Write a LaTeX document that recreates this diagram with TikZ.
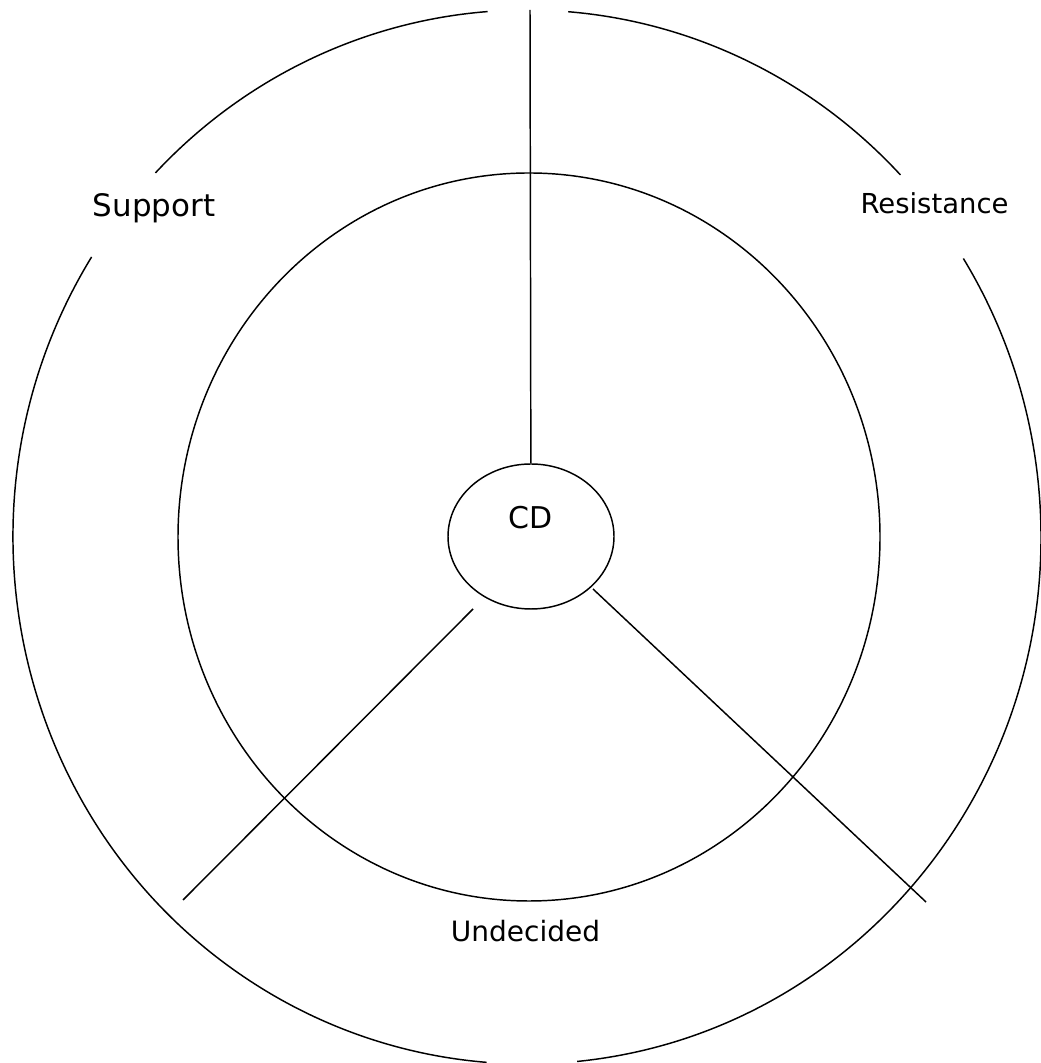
\documentclass[tikz,border=0pt]{standalone}
\usepackage{fontspec}
\setmainfont{DejaVu Sans}
\usetikzlibrary{shapes.geometric}
\begin{document}
\begin{tikzpicture}[x=0.75pt,y=0.75pt,line width=1.1pt,
  lbl/.style={anchor=base,inner sep=0pt}]
\useasboundingbox (0,0) rectangle (1040,1063);
% outer ring, open at the top, the bottom and the two labels
\foreach \a/\b in {43.4/85.4,94.4/136.3,147.9/265.5,275.6/391.9}
  {\draw (527,526) ++(\a:514 and 527) arc[start angle=\a,end angle=\b,x radius=514,y radius=527];}
\draw (529,526) ellipse [x radius=351,y radius=364];
\node (cd) [draw,ellipse,minimum width=124.5pt,minimum height=108.75pt,
  text height=16.5pt,text depth=27.75pt,font=\fontsize{22.5}{27}\selectfont] at (531,526.5) {CD};
\coordinate (top) at (530,1053);
\coordinate (ll-out) at (183,163);
\coordinate (ll-in) at (473,454);
\coordinate (lr-in) at (593,474);
\coordinate (lr-out) at (926,161);
\draw (top) -- (cd);
\draw (ll-in) -- (ll-out);
\draw (lr-in) -- (lr-out);
\node (support) [lbl,font=\fontsize{23.2}{28}\selectfont] at (154,846) {Support};
\node (resistance) [lbl,font=\fontsize{20.6}{25}\selectfont] at (934.5,849) {Resistance};
\node (undecided) [lbl,font=\fontsize{21}{25}\selectfont] at (525.5,121) {Undecided};
\end{tikzpicture}
\end{document}
